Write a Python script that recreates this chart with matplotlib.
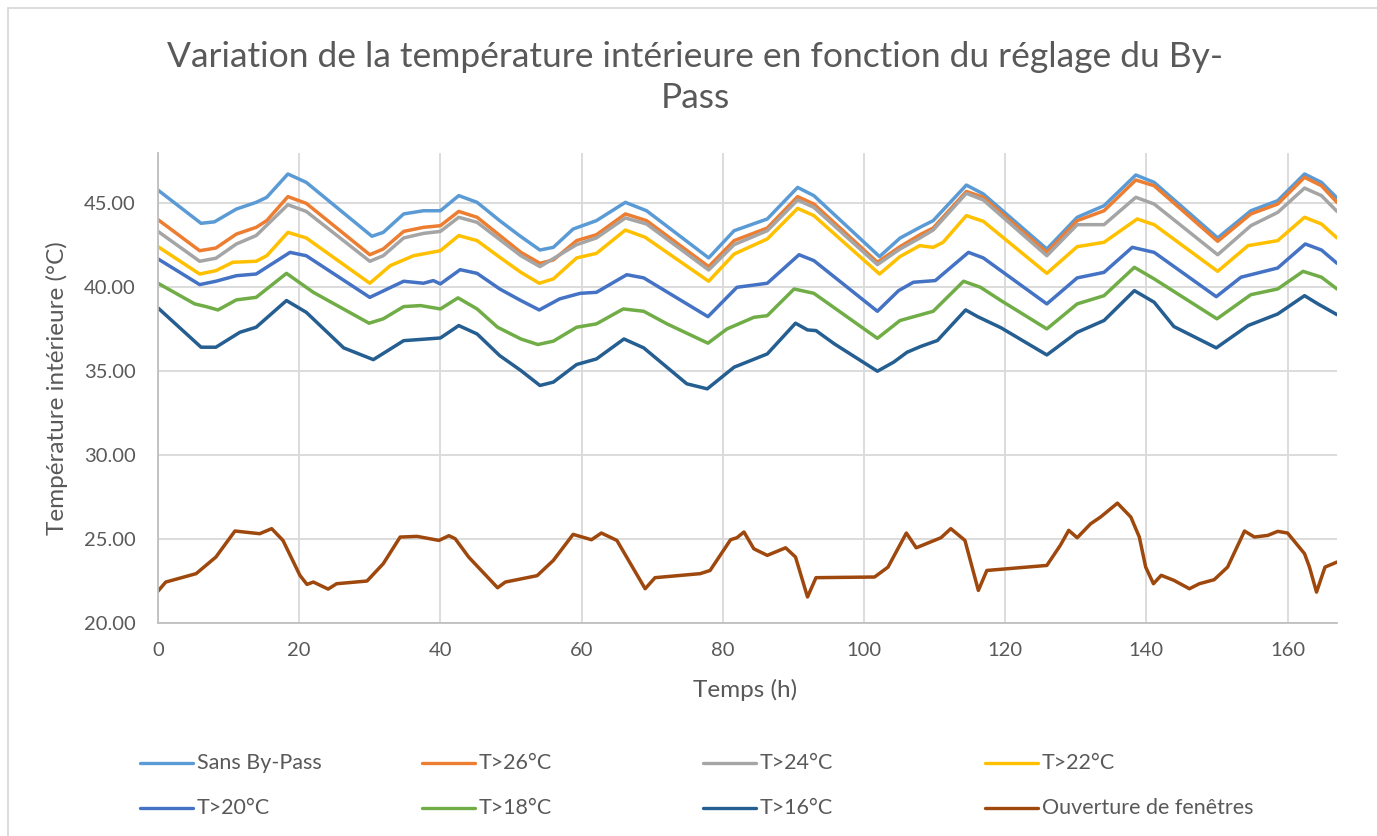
import matplotlib
matplotlib.use("Agg")
import matplotlib.pyplot as plt
from matplotlib.lines import Line2D
from matplotlib.patches import Rectangle
from matplotlib.ticker import FormatStrFormatter

plt.rcParams['font.family'] = ['Lato', 'DejaVu Sans']

# (heure, temperature)
sans_bypass = [(0, 45.79), (6.1, 43.81), (8.0, 43.90), (11.1, 44.66), (13.9, 45.06), (15.4, 45.36),
               (18.4, 46.75), (21.0, 46.25), (30.3, 43.04), (31.9, 43.27), (34.8, 44.37), (37.6, 44.56),
               (40.0, 44.56), (42.6, 45.46), (45.2, 45.06), (48.4, 43.97), (51.2, 43.08), (54.1, 42.22),
               (56.0, 42.38), (58.8, 43.47), (62.1, 43.97), (66.2, 45.06), (69.2, 44.56), (78.0, 41.75),
               (81.6, 43.37), (86.3, 44.07), (90.6, 45.95), (92.9, 45.46), (102.2, 41.83), (105.1, 42.93),
               (108.1, 43.61), (109.8, 43.97), (114.5, 46.09), (116.9, 45.56), (125.9, 42.28),
               (130.2, 44.17), (134.0, 44.86), (138.5, 46.69), (141.1, 46.25), (150.1, 42.94),
               (154.8, 44.56), (158.6, 45.16), (162.4, 46.75), (164.8, 46.25), (167, 45.32)]
t26 = [(0, 44.03), (5.9, 42.18), (8.2, 42.34), (11.1, 43.17), (13.9, 43.57), (15.4, 43.97),
       (18.4, 45.40), (21.0, 45.00), (30.0, 41.94), (31.9, 42.28), (34.8, 43.33), (37.6, 43.57),
       (40.0, 43.67), (42.6, 44.52), (45.2, 44.17), (51.4, 42.08), (54.1, 41.43), (56.0, 41.63),
       (59.3, 42.78), (62.1, 43.13), (66.2, 44.37), (69.2, 43.97), (78.0, 41.23), (81.6, 42.78),
       (86.3, 43.53), (90.6, 45.40), (92.9, 44.96), (101.9, 41.49), (105.1, 42.42), (108.1, 43.17),
       (109.8, 43.53), (114.5, 45.71), (116.9, 45.36), (125.9, 42.08), (130.2, 43.97), (134.0, 44.56),
       (138.5, 46.39), (141.1, 46.05), (150.1, 42.74), (154.8, 44.37), (158.6, 44.96), (162.4, 46.55),
       (164.8, 46.05), (167, 45.06)]
t24 = [(0, 43.33), (5.9, 41.55), (8.2, 41.73), (11.1, 42.58), (13.9, 43.08), (18.4, 44.92),
       (21.0, 44.52), (30.0, 41.55), (31.9, 41.88), (34.8, 42.94), (37.6, 43.21), (40.0, 43.33),
       (42.6, 44.17), (45.2, 43.87), (51.4, 41.88), (54.1, 41.23), (59.3, 42.54), (62.1, 42.94),
       (66.2, 44.13), (69.2, 43.77), (78.0, 41.03), (81.6, 42.54), (86.3, 43.37), (90.6, 45.20),
       (92.9, 44.76), (101.9, 41.35), (105.1, 42.28), (108.1, 42.98), (109.8, 43.41), (114.5, 45.60),
       (116.9, 45.20), (125.9, 41.88), (130.2, 43.73), (134.0, 43.73), (138.5, 45.36), (141.1, 44.96),
       (150.1, 41.94), (154.8, 43.67), (158.6, 44.46), (162.4, 45.91), (164.8, 45.46), (167, 44.52)]
t22 = [(0, 42.42), (5.9, 40.79), (8.2, 40.99), (10.6, 41.49), (13.9, 41.55), (15.4, 41.88),
       (18.4, 43.27), (21.0, 42.94), (30.0, 40.24), (32.9, 41.29), (36.2, 41.88), (40.0, 42.18),
       (42.6, 43.08), (45.2, 42.78), (48.4, 41.79), (51.4, 40.89), (54.0, 40.24), (56.0, 40.50),
       (59.3, 41.75), (62.1, 42.02), (66.2, 43.41), (69.0, 42.98), (78.0, 40.36), (81.6, 41.98),
       (86.3, 42.88), (90.6, 44.70), (92.9, 44.27), (102.2, 40.79), (105.1, 41.83), (107.9, 42.48),
       (109.8, 42.38), (111.2, 42.68), (114.5, 44.27), (116.9, 43.93), (125.9, 40.83), (130.2, 42.42),
       (134.0, 42.68), (138.7, 44.07), (141.1, 43.73), (150.1, 40.95), (154.4, 42.48), (158.6, 42.78),
       (162.4, 44.17), (164.8, 43.77), (167, 42.94)]
t20 = [(0, 41.69), (5.9, 40.16), (8.2, 40.36), (11.1, 40.69), (13.9, 40.79), (18.7, 42.08),
       (21.0, 41.88), (30.0, 39.40), (34.8, 40.36), (37.6, 40.24), (39.0, 40.40), (40.0, 40.20),
       (42.8, 41.05), (45.2, 40.83), (48.4, 39.90), (51.4, 39.21), (54.0, 38.65), (56.9, 39.31),
       (59.8, 39.64), (62.1, 39.70), (66.4, 40.75), (68.8, 40.56), (77.9, 38.25), (82.0, 40.00),
       (86.3, 40.24), (90.8, 41.94), (92.9, 41.59), (101.9, 38.57), (104.9, 39.80), (107.0, 40.30),
       (110.1, 40.40), (114.8, 42.08), (116.9, 41.75), (125.9, 39.01), (130.2, 40.56), (134.0, 40.89),
       (138.0, 42.38), (141.1, 42.08), (149.9, 39.44), (153.4, 40.60), (158.6, 41.15), (162.5, 42.58),
       (164.8, 42.22), (167, 41.43)]
t18 = [(0, 40.24), (5.2, 39.01), (6.8, 38.85), (8.5, 38.65), (11.1, 39.25), (13.9, 39.40),
       (18.2, 40.83), (22.0, 39.70), (29.9, 37.86), (31.9, 38.12), (34.8, 38.85), (37.2, 38.91),
       (40.0, 38.71), (42.5, 39.37), (45.2, 38.71), (48.1, 37.62), (51.4, 36.92), (53.8, 36.59),
       (56.0, 36.79), (59.3, 37.62), (62.1, 37.82), (65.9, 38.71), (68.8, 38.57), (72.1, 37.82),
       (77.9, 36.67), (80.6, 37.52), (84.4, 38.21), (86.3, 38.31), (90.1, 39.90), (92.9, 39.64),
       (101.9, 36.96), (105.1, 38.02), (109.8, 38.57), (114.1, 40.36), (116.5, 40.00), (119.4, 39.21),
       (125.9, 37.52), (130.2, 39.01), (134.0, 39.50), (138.3, 41.19), (141.1, 40.50), (150.0, 38.12),
       (154.8, 39.56), (158.6, 39.90), (162.2, 40.95), (164.8, 40.60), (167, 39.90)]
t16 = [(0, 38.77), (6.1, 36.43), (8.2, 36.43), (11.6, 37.32), (13.9, 37.62), (18.2, 39.21),
       (21.0, 38.51), (26.3, 36.39), (30.5, 35.69), (34.8, 36.82), (40.0, 36.98), (42.6, 37.72),
       (45.2, 37.22), (48.4, 35.93), (51.4, 35.04), (54.1, 34.15), (56.0, 34.35), (59.3, 35.40),
       (62.1, 35.73), (66.0, 36.92), (68.8, 36.39), (74.9, 34.25), (77.8, 33.95), (81.6, 35.24),
       (86.3, 36.03), (90.3, 37.86), (92.0, 37.46), (93.2, 37.42), (95.8, 36.63), (101.9, 35.00),
       (104.2, 35.54), (106.1, 36.13), (108.0, 36.47), (110.4, 36.83), (114.4, 38.65), (116.1, 38.25),
       (119.4, 37.59), (125.9, 35.97), (130.2, 37.32), (134.0, 38.02), (138.3, 39.80), (141.1, 39.11),
       (143.9, 37.66), (149.9, 36.39), (154.4, 37.72), (158.6, 38.41), (162.4, 39.50), (164.3, 39.01),
       (167, 38.37)]
fenetres = [(0, 21.90), (1.1, 22.44), (5.4, 22.94), (8.2, 23.93), (10.9, 25.48), (14.4, 25.32),
            (16.1, 25.62), (17.7, 24.92), (20.1, 22.84), (21.1, 22.30), (22.0, 22.44), (24.1, 22.02),
            (25.3, 22.34), (29.6, 22.50), (31.9, 23.53), (34.3, 25.12), (36.7, 25.16), (39.8, 24.92),
            (41.2, 25.20), (42.1, 25.02), (44.0, 23.93), (48.1, 22.10), (49.2, 22.44), (53.7, 22.82),
            (56.0, 23.73), (58.8, 25.28), (61.4, 24.96), (62.8, 25.36), (65.0, 24.92), (69.0, 22.04),
            (70.4, 22.70), (76.8, 22.94), (78.2, 23.13), (81.1, 24.96), (82.0, 25.08), (83.0, 25.42),
            (84.4, 24.42), (86.3, 24.03), (88.9, 24.48), (90.3, 23.93), (92.0, 21.55), (93.2, 22.70),
            (101.5, 22.74), (103.4, 23.33), (106.0, 25.36), (107.4, 24.48), (110.9, 25.08), (112.3, 25.62),
            (114.3, 24.92), (116.2, 21.94), (117.4, 23.13), (125.9, 23.43), (127.8, 24.62), (129.0, 25.52),
            (130.2, 25.08), (132.1, 25.91), (133.5, 26.31), (135.9, 27.14), (137.8, 26.31), (139.0, 25.12),
            (139.9, 23.33), (141.0, 22.34), (142.1, 22.84), (143.9, 22.54), (146.1, 22.04), (147.5, 22.34),
            (149.6, 22.58), (151.5, 23.33), (153.9, 25.48), (155.3, 25.12), (157.2, 25.22), (158.6, 25.46),
            (160.0, 25.36), (162.4, 24.13), (163.1, 23.33), (164.1, 21.84), (165.3, 23.33), (167, 23.63)]

series = [("Sans By-Pass", sans_bypass, "#5B9BD5"),
          ("T>26°C", t26, "#ED7D31"),
          ("T>24°C", t24, "#A5A5A5"),
          ("T>22°C", t22, "#FFC000"),
          ("T>20°C", t20, "#4472C4"),
          ("T>18°C", t18, "#70AD47"),
          ("T>16°C", t16, "#255E91"),
          ("Ouverture de fenêtres", fenetres, "#9E480E")]

txt = "#595959"
fig = plt.figure(figsize=(13.77, 8.36), dpi=100)
ax = fig.add_axes([158 / 1377, 1 - 623 / 836, 1179 / 1377, 470 / 836])

for name, pts, col in series:
    xs = [p[0] for p in pts]
    ys = [p[1] for p in pts]
    ax.plot(xs, ys, color=col, lw=2.5, solid_joinstyle='round', solid_capstyle='round')

ax.set_xlim(0, 167)
ax.set_ylim(20, 48)
ax.set_xticks(range(0, 161, 20))
ax.set_yticks(range(20, 46, 5))
ax.yaxis.set_major_formatter(FormatStrFormatter('%.2f'))
ax.grid(True, color="#D9D9D9", lw=1.3)
ax.set_axisbelow(True)
for s in ['top', 'right']:
    ax.spines[s].set_visible(False)
for s in ['left', 'bottom']:
    ax.spines[s].set_color("#BFBFBF")
    ax.spines[s].set_linewidth(1.3)
ax.tick_params(length=0, labelsize=14.5, colors=txt)
ax.tick_params(axis='y', pad=16)
ax.tick_params(axis='x', pad=14)

ax.set_xlabel("Temps (h)", fontsize=17.5, color=txt)
ax.set_ylabel("Température intérieure (°C)", fontsize=17.5, color=txt)
ax.xaxis.label.set_va('center')
ax.yaxis.label.set_va('center')
ax.xaxis.set_label_coords(0.498, -0.143)
ax.yaxis.set_label_coords(-0.086, 0.5)

fig.text(0.505, 1 - 57 / 836, "Variation de la température intérieure en fonction du réglage du By-",
         ha='center', va='center', fontsize=25.5, color=txt)
fig.text(0.505, 1 - 98 / 836, "Pass", ha='center', va='center', fontsize=25.5, color=txt)

# legend, 2 rows x 4 columns
col_x = [140, 422, 703, 985]
row_y = [763, 808]
for i, (name, pts, col) in enumerate(series):
    x0 = col_x[i % 4]
    y0 = row_y[i // 4]
    fig.add_artist(Line2D([x0 / 1377, (x0 + 53) / 1377], [1 - y0 / 836] * 2, color=col, lw=2.4,
                          solid_capstyle='round', transform=fig.transFigure))
    fig.text((x0 + 57) / 1377, 1 - y0 / 836, name, ha='left', va='center', fontsize=15.5, color=txt)

fig.add_artist(Rectangle((8 / 1377, -0.01), 1.2, 1 - 8 / 836 + 0.01, transform=fig.transFigure,
                         fill=False, edgecolor="#D9D9D9", lw=1.3))

fig.savefig("out.png", dpi=100)
